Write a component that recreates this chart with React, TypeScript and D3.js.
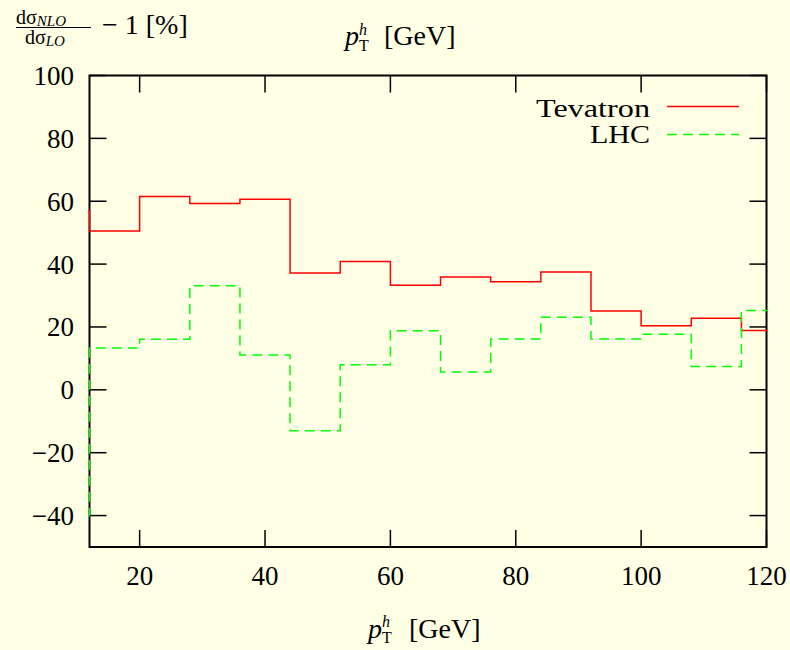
import React from "react";
import * as d3 from "d3";

const binEdges = [4, 12, 20, 28, 36, 44, 52, 60, 68, 76, 84, 92, 100, 108, 116, 124];
const tevatron = [57, 50.5, 61.5, 59.3, 60.6, 37.2, 40.8, 33.3, 35.9, 34.4, 37.5, 25.1, 20.4, 22.8, 18.9];
const lhc = [-40, 13.3, 16.1, 33.1, 11.1, -13, 8, 18.8, 5.7, 16.2, 23.1, 16.2, 17.7, 7.4, 25.2];
const xTicks = [20, 40, 60, 80, 100, 120];
const yTicks = [-40, -20, 0, 20, 40, 60, 80, 100];
const seriesNames = ["Tevatron", "LHC"];

const W = 790, H = 650;
const L = 89.5, R = 766.5, T = 75.5, B = 547;
const BG = "#ffffe6";
const FONT = "'Liberation Serif', 'DejaVu Serif', serif";

export default function App() {
  const x = d3.scaleLinear().domain([12, 120]).range([L, R]);
  const y = d3.scaleLinear().domain([-50, 100]).range([B, T]);
  const stepLine = d3
    .line<[number, number]>()
    .x((d) => x(d[0]))
    .y((d) => y(d[1]))
    .curve(d3.curveStepAfter);
  const pts = (vals: number[]) => {
    const p: [number, number][] = vals.map((v, i) => [binEdges[i], v]);
    p.push([binEdges[vals.length], vals[vals.length - 1]]);
    return p;
  };
  const tick = 17;
  const fmt = (v: number) => (v < 0 ? "\u2212" + Math.abs(v) : String(v));

  return (
    <div style={{ position: "fixed", left: 0, top: 0, width: W, height: H, background: BG }}>
      <svg width={W} height={H} style={{ display: "block" }} fontFamily={FONT}>
        <rect x={0} y={0} width={W} height={H} fill={BG} />
        <defs>
          <clipPath id="plotclip">
            <rect x={L - 1} y={T} width={R - L + 2} height={B - T} />
          </clipPath>
        </defs>

        {/* y label */}
        <g fill="#000">
          <text x={16} y={24} fontSize={20}>
            dσ
            <tspan fontStyle="italic" fontSize={15} dy={2}>NLO</tspan>
          </text>
          <line x1={16} x2={91} y1={27.5} y2={27.5} stroke="#000" strokeWidth={1.2} />
          <text x={25} y={44} fontSize={20}>
            dσ
            <tspan fontStyle="italic" fontSize={15} dy={2}>LO</tspan>
          </text>
          <text x={102} y={34} fontSize={28}>
            {"\u2212 1 [%]"}
          </text>
        </g>

        {/* top title */}
        <g fill="#000">
          <text x={345} y={45} fontSize={28} fontStyle="italic">p</text>
          <text x={359} y={35} fontSize={16} fontStyle="italic">h</text>
          <text x={359} y={51} fontSize={16}>T</text>
          <text x={384} y={45} fontSize={28}>[GeV]</text>
        </g>

        {/* bottom title */}
        <g fill="#000">
          <text x={368} y={638} fontSize={28} fontStyle="italic">p</text>
          <text x={382} y={627} fontSize={16} fontStyle="italic">h</text>
          <text x={382} y={643} fontSize={16}>T</text>
          <text x={409} y={638} fontSize={28}>[GeV]</text>
        </g>

        {/* ticks */}
        <g stroke="#000" strokeWidth={1.5}>
          {yTicks.map((v) => (
            <g key={"y" + v}>
              <line x1={L} x2={L + tick} y1={y(v)} y2={y(v)} />
              <line x1={R - tick} x2={R} y1={y(v)} y2={y(v)} />
            </g>
          ))}
          {xTicks.map((v) => (
            <g key={"x" + v}>
              <line x1={x(v)} x2={x(v)} y1={B} y2={B - tick} />
              <line x1={x(v)} x2={x(v)} y1={T} y2={T + tick} />
            </g>
          ))}
        </g>
        <rect x={L} y={T} width={R - L} height={B - T} fill="none" stroke="#000" strokeWidth={2} />

        {/* series (drawn over the frame) */}
        <g clipPath="url(#plotclip)" fill="none">
          <path d={stepLine(pts(tevatron)) || ""} stroke="#ff0000" strokeWidth={1.5} />
          <path d={stepLine(pts(lhc)) || ""} stroke="#00ff00" strokeWidth={1.5} strokeDasharray="10,6" />
        </g>

        {/* tick labels */}
        <g fill="#000" fontSize={27}>
          {yTicks.map((v) => (
            <text key={"yl" + v} x={74} y={y(v) + 9.5} textAnchor="end">
              {fmt(v)}
            </text>
          ))}
          {xTicks.map((v) => (
            <text key={"xl" + v} x={x(v)} y={585} textAnchor="middle">
              {fmt(v)}
            </text>
          ))}
        </g>

        {/* legend */}
        <g fontSize={26} fill="#000">
          <text x={650} y={117} textAnchor="end" textLength={114} lengthAdjust="spacingAndGlyphs">{seriesNames[0]}</text>
          <line x1={667} x2={739} y1={106.5} y2={106.5} stroke="#ff0000" strokeWidth={1.5} />
          <text x={650} y={143} textAnchor="end" textLength={60} lengthAdjust="spacingAndGlyphs">{seriesNames[1]}</text>
          <line x1={667} x2={739} y1={134.5} y2={134.5} stroke="#00ff00" strokeWidth={1.5} strokeDasharray="10,6" />
        </g>
      </svg>
    </div>
  );
}
